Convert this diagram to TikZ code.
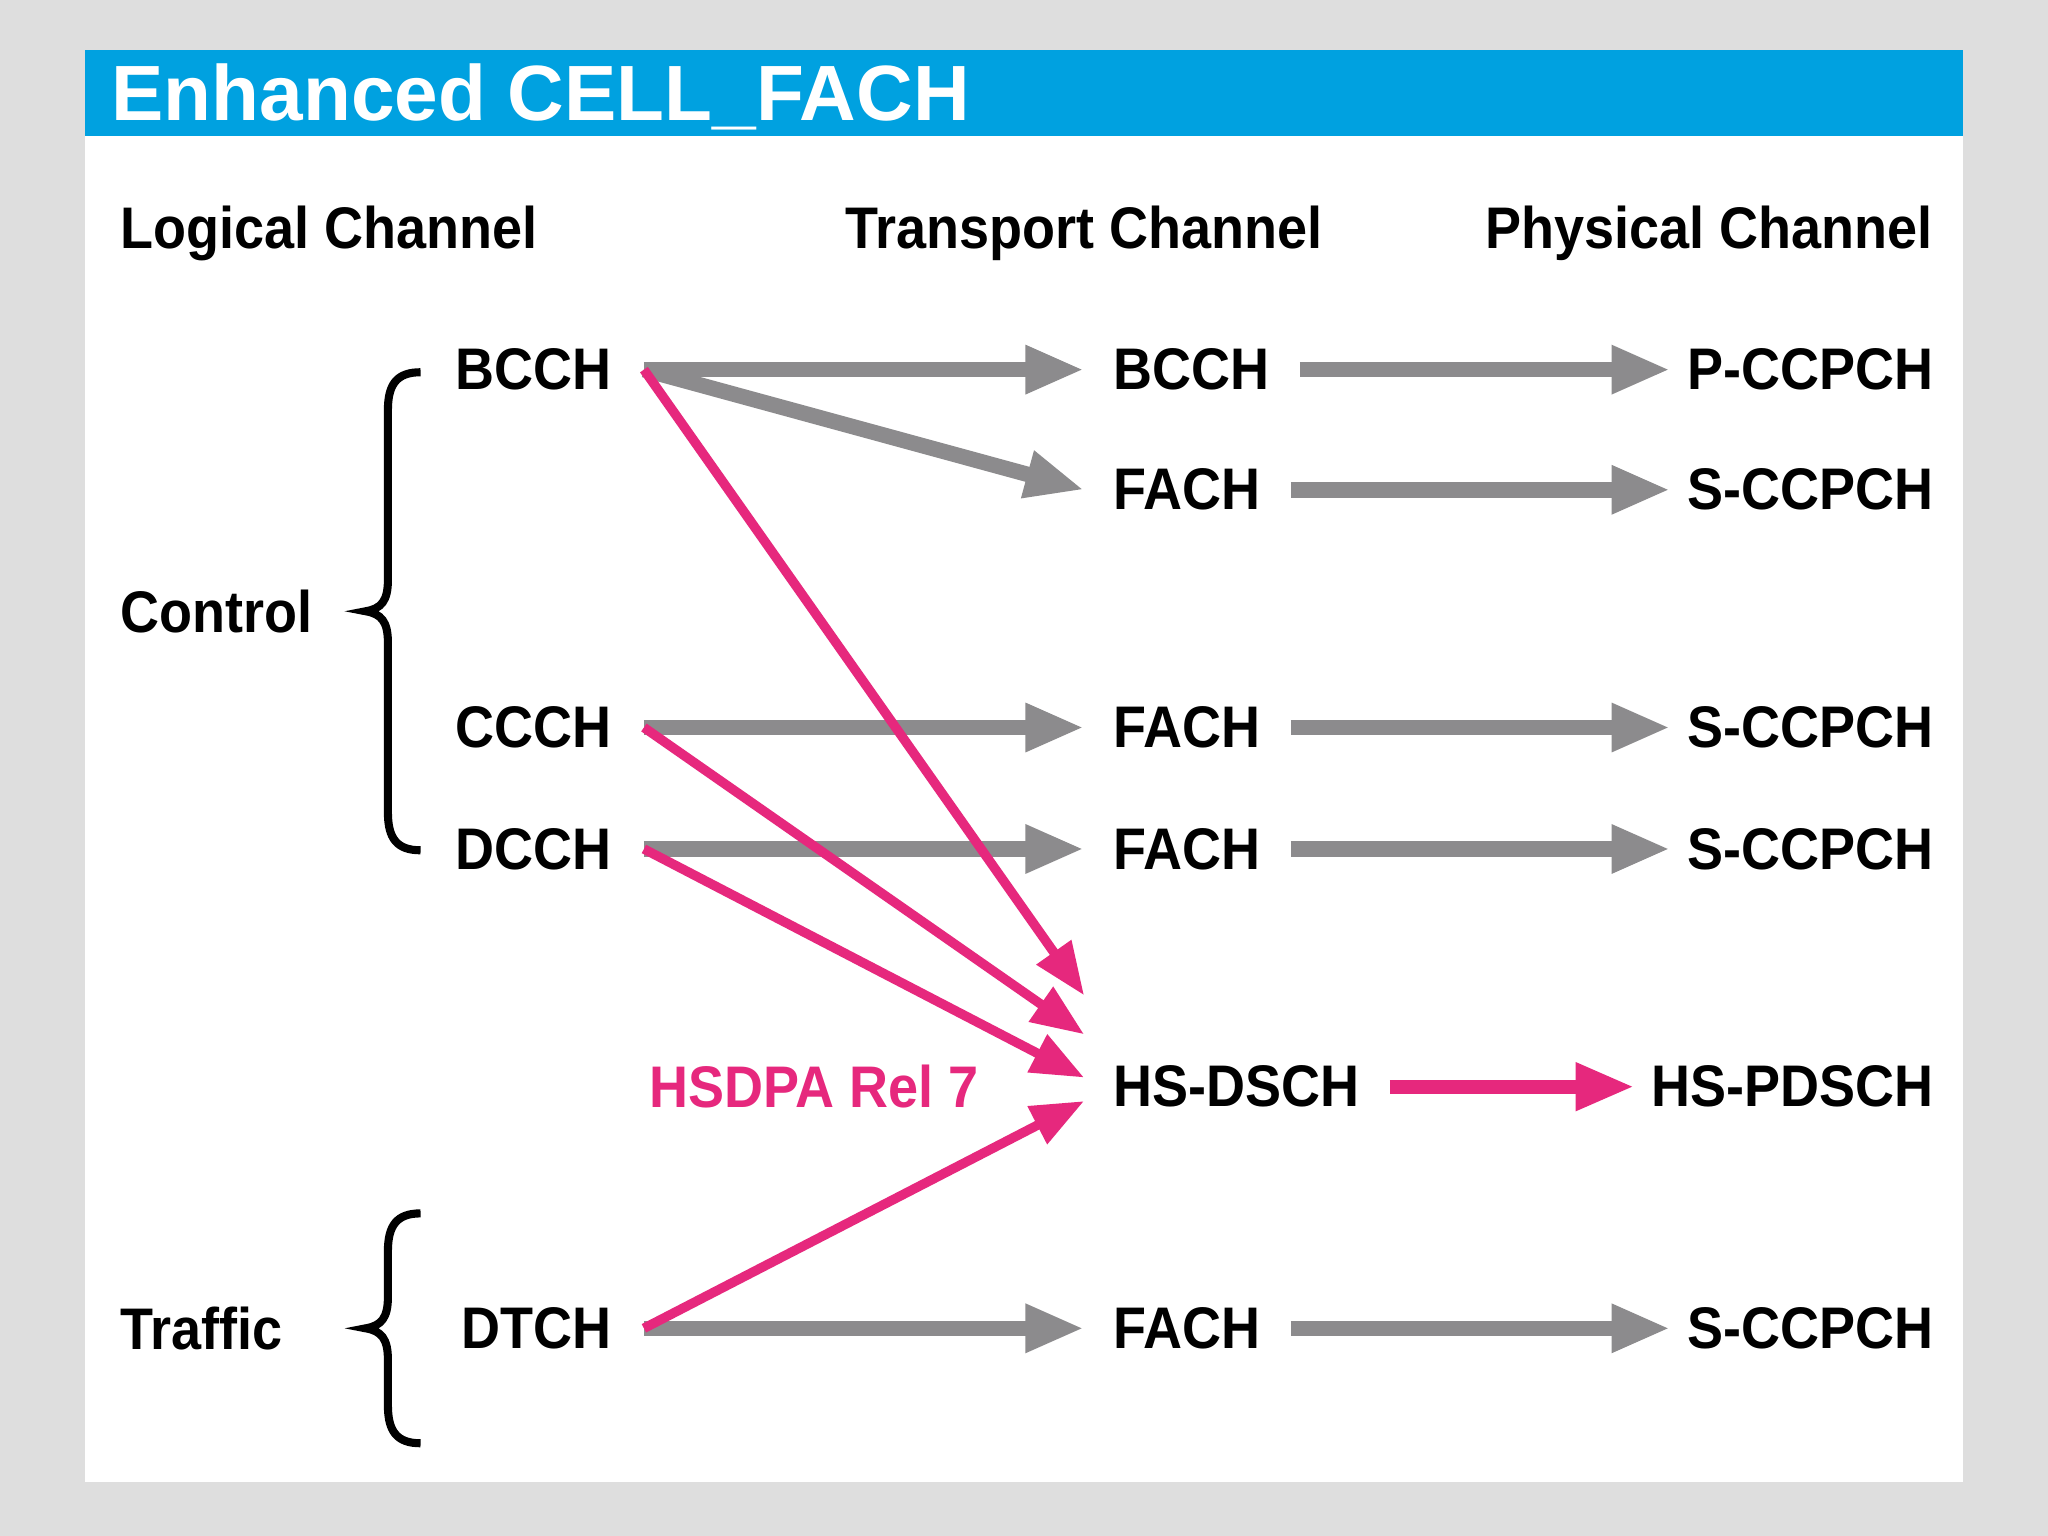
\documentclass[tikz,border=0pt]{standalone}
\usepackage{fontspec}
\setmainfont{Liberation Sans}
\newfontfamily\labfont[FakeStretch=0.92]{Liberation Sans}
\usetikzlibrary{arrows.meta}
\definecolor{bggray}{HTML}{DEDEDE}
\definecolor{titleblue}{HTML}{00A1E0}
\definecolor{arrowgray}{HTML}{8C8B8D}
\definecolor{hspink}{HTML}{E6287D}
\begin{document}
\begin{tikzpicture}[x=0.01306cm,y=-0.01306cm,
  lab/.style={inner sep=0pt, font=\labfont\bfseries\fontsize{16.7}{18}\selectfont, text=black},
  logch/.style={lab, anchor=east, outer xsep=9.3pt},
  trch/.style={lab, anchor=west, outer xsep=8.5pt},
  phch/.style={lab, anchor=east, outer xsep=5pt},
  grayarrow/.style={draw=arrowgray, line width=4.4pt, -{Triangle[length=16.7pt,width=12.8pt]}},
  pinkarrow/.style={draw=hspink, line width=2.7pt, -{Triangle[length=15pt,width=11.5pt]}},
  pinkbig/.style={draw=hspink, line width=3.9pt, -{Triangle[length=16.7pt,width=12.8pt]}},
  bracepath/.style={draw=black, line width=2.3pt}
]
\useasboundingbox (0,0) rectangle (1568,1176);
\fill[bggray] (0,0) rectangle (1568,1176);
\fill[white] (65,38) rectangle (1503,1135);
\fill[titleblue] (65,38) rectangle (1503,104);
\node[anchor=base west, inner sep=0pt, text=white, font=\bfseries\fontsize{22.3}{24}\selectfont] (title) at (85,92) {Enhanced CELL\_FACH};

% headers
\node[lab, anchor=base west] (hlog) at (92,190) {Logical Channel};
\node[lab, anchor=base west] (htr) at (647,190) {Transport Channel};
\node[lab, anchor=base east] (hph) at (1480,190) {Physical Channel};

% groups
\node[lab, anchor=west] (control) at (92,468) {Control};
\node[lab, anchor=west] (traffic) at (92,1017) {Traffic};

% logical channels
\node[logch] (lbcch) at (493,283) {BCCH};
\node[logch] (lccch) at (493,557) {CCCH};
\node[logch] (ldcch) at (493,650) {DCCH};
\node[logch] (ldtch) at (493,1017) {DTCH};

% transport channels
\node[trch] (tbcch) at (830,283) {BCCH};
\node[trch] (tfach1) at (830,375) {FACH};
\node[trch] (tfach2) at (830,557) {FACH};
\node[trch] (tfach3) at (830,650) {FACH};
\node[trch] (thsdsch) at (830,832) {HS-DSCH};
\node[trch] (tfach4) at (830,1017) {FACH};

% physical channels
\node[phch] (pp) at (1494,283) {P-CCPCH};
\node[phch] (ps1) at (1494,375) {S-CCPCH};
\node[phch] (ps2) at (1494,557) {S-CCPCH};
\node[phch] (ps3) at (1494,650) {S-CCPCH};
\node[phch] (phs) at (1494,832) {HS-PDSCH};
\node[phch] (ps4) at (1494,1017) {S-CCPCH};

\node[lab, anchor=west, text=hspink] (rel) at (497,832) {HSDPA Rel 7};

% braces
\draw[bracepath] (322,285) .. controls (304,285) and (297,294) .. (297,314)
  -- (297,444) .. controls (297,460) and (292,466) .. (280,468)
  .. controls (292,470) and (297,476) .. (297,492)
  -- (297,622) .. controls (297,642) and (304,651) .. (322,651);
\draw[bracepath] (322,929) .. controls (304,929) and (297,938) .. (297,958)
  -- (297,993) .. controls (297,1009) and (292,1015) .. (280,1017)
  .. controls (292,1019) and (297,1025) .. (297,1041)
  -- (297,1076) .. controls (297,1096) and (304,1105) .. (322,1105);

% gray arrows
\draw[grayarrow] (lbcch.east) -- (tbcch.west);
\draw[grayarrow] (lbcch.east) -- (tfach1.west);
\draw[grayarrow] (lccch.east) -- (tfach2.west);
\draw[grayarrow] (ldcch.east) -- (tfach3.west);
\draw[grayarrow] (ldtch.east) -- (tfach4.west);
\draw[grayarrow] (tbcch.east) -- (pp.west);
\draw[grayarrow] (tfach1.east) -- (ps1.west);
\draw[grayarrow] (tfach2.east) -- (ps2.west);
\draw[grayarrow] (tfach3.east) -- (ps3.west);
\draw[grayarrow] (tfach4.east) -- (ps4.west);

% pink arrows
\draw[pinkarrow] (lbcch.east) -- ([yshift=26pt]thsdsch.west);
\draw[pinkarrow] (lccch.east) -- ([yshift=14.9pt]thsdsch.west);
\draw[pinkarrow] (ldcch.east) -- ([yshift=2.6pt]thsdsch.west);
\draw[pinkarrow] (ldtch.east) -- ([yshift=-4.1pt]thsdsch.west);
\draw[pinkbig] (thsdsch.east) -- (phs.west);
\end{tikzpicture}
\end{document}
